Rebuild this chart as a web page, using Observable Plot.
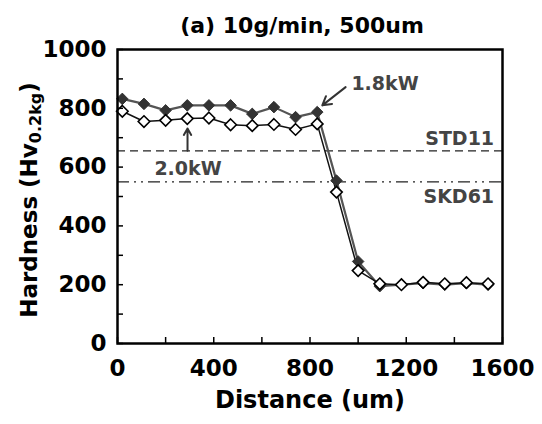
<!DOCTYPE html>
<html><head><meta charset="utf-8">
<script src="https://cdn.jsdelivr.net/npm/d3@7"></script>
<script src="https://cdn.jsdelivr.net/npm/@observablehq/plot@0.6"></script>
<style>body{margin:0;background:#fff}</style>
</head><body><div id="chart"></div>
<script>
const title = "(a) 10g/min, 500um";
const xLabel = "Distance (um)";
const distance = [20,110,200,290,380,470,560,650,740,830,910,1000,1090,1180,1270,1360,1450,1540];
const hv18 = [832,815,793,810,810,810,781,804,770,787,554,279,195,200,205,200,205,200];
const hv20 = [790,755,759,765,767,744,741,745,728,747,515,248,203,200,208,203,207,203];
const xMajor = [0,400,800,1200,1600];
const xTicks = [0,200,400,600,800,1000,1200,1400,1600];
const yMajor = [0,200,400,600,800,1000];
const yTicks = [0,100,200,300,400,500,600,700,800,900,1000];
const std11 = [655];
const skd61 = [550];
const labelsStart = [{text:"1.8kW", x:972, y:884}];
const labelsMiddle = [{text:"2.0kW", x:293, y:595}];
const labelsEnd = [
  {text:"STD11", x:1565, y:697},
  {text:"SKD61", x:1565, y:500}
];
const arrows = [
  {x1:948, y1:872, x2:851, y2:810},
  {x1:291, y1:656, x2:291, y2:731}
];

const W = 542, H = 424, mL = 117, mR = 40, mT = 49, mB = 81;
const font = "'DejaVu Sans', sans-serif";
const rows18 = distance.map((d, i) => ({d, hv: hv18[i]}));
const rows20 = distance.map((d, i) => ({d, hv: hv20[i]}));
const annot = {x: "x", y: "y", text: "text", fill: "#444", fontSize: 19, fontWeight: "bold"};

const plot = Plot.plot({
  width: W, height: H, marginLeft: mL, marginRight: mR, marginTop: mT, marginBottom: mB,
  style: {fontFamily: font, background: "white", color: "black"},
  x: {domain: [0, 1600]},
  y: {domain: [0, 1000]},
  marks: [
    Plot.ruleY(std11, {stroke: "#222", strokeWidth: 1.3, strokeDasharray: "8,5"}),
    Plot.ruleY(skd61, {stroke: "#222", strokeWidth: 1.3, strokeDasharray: "12,5,2,5,2,5"}),
    Plot.line(rows18, {x: "d", y: "hv", stroke: "#555", strokeWidth: 2.2}),
    Plot.line(rows20, {x: "d", y: "hv", stroke: "#111", strokeWidth: 1.5}),
    Plot.dot(rows18, {x: "d", y: "hv", symbol: "diamond2", r: 5.2, fill: "#333", stroke: "#333", strokeWidth: 1}),
    Plot.dot(rows20, {x: "d", y: "hv", symbol: "diamond2", r: 5.2, fill: "white", stroke: "black", strokeWidth: 1.6}),
    Plot.arrow(arrows, {x1: "x1", y1: "y1", x2: "x2", y2: "y2", stroke: "#333", strokeWidth: 2, headLength: 9}),
    Plot.text(labelsStart, {...annot, textAnchor: "start"}),
    Plot.text(labelsMiddle, {...annot, textAnchor: "middle"}),
    Plot.text(labelsEnd, {...annot, textAnchor: "end"}),
    Plot.ruleX(xTicks, {x: d => d, insetTop: H - mT - mB - 6, stroke: "black", strokeWidth: 1.5}),
    Plot.ruleY(yTicks, {y: d => d, insetRight: W - mL - mR - 6, stroke: "black", strokeWidth: 1.5}),
    Plot.axisX(xMajor, {tickSize: 0, tickPadding: 16, fontSize: 23, fontWeight: "bold", label: null, tickFormat: d => String(d)}),
    Plot.axisY(yMajor, {tickSize: 0, tickPadding: 11, fontSize: 23, fontWeight: "bold", label: null, tickFormat: d => String(d)}),
    Plot.frame({stroke: "black", strokeWidth: 2.5}),
    Plot.text([xLabel], {text: d => d, frameAnchor: "bottom", lineAnchor: "middle", dy: 57, fontSize: 24, fontWeight: "bold"}),
    Plot.text([title], {text: d => d, frameAnchor: "top", lineAnchor: "middle", dy: -24, dx: -8, fontSize: 22, fontWeight: "bold"})
  ]
});

const svg = d3.select(plot);
const yl = svg.append("text")
  .attr("transform", `translate(30, ${mT + (H - mT - mB) / 2 + 4}) rotate(-90)`)
  .attr("text-anchor", "middle")
  .attr("dominant-baseline", "middle")
  .attr("font-family", font)
  .attr("font-size", 23)
  .attr("font-weight", "bold")
  .attr("fill", "black");
yl.append("tspan").text("Hardness (Hv");
yl.append("tspan").attr("font-size", 16).attr("dy", 6).text("0.2kg");
yl.append("tspan").attr("dy", -6).text(")");

document.getElementById("chart").appendChild(plot);
</script>
</body></html>
